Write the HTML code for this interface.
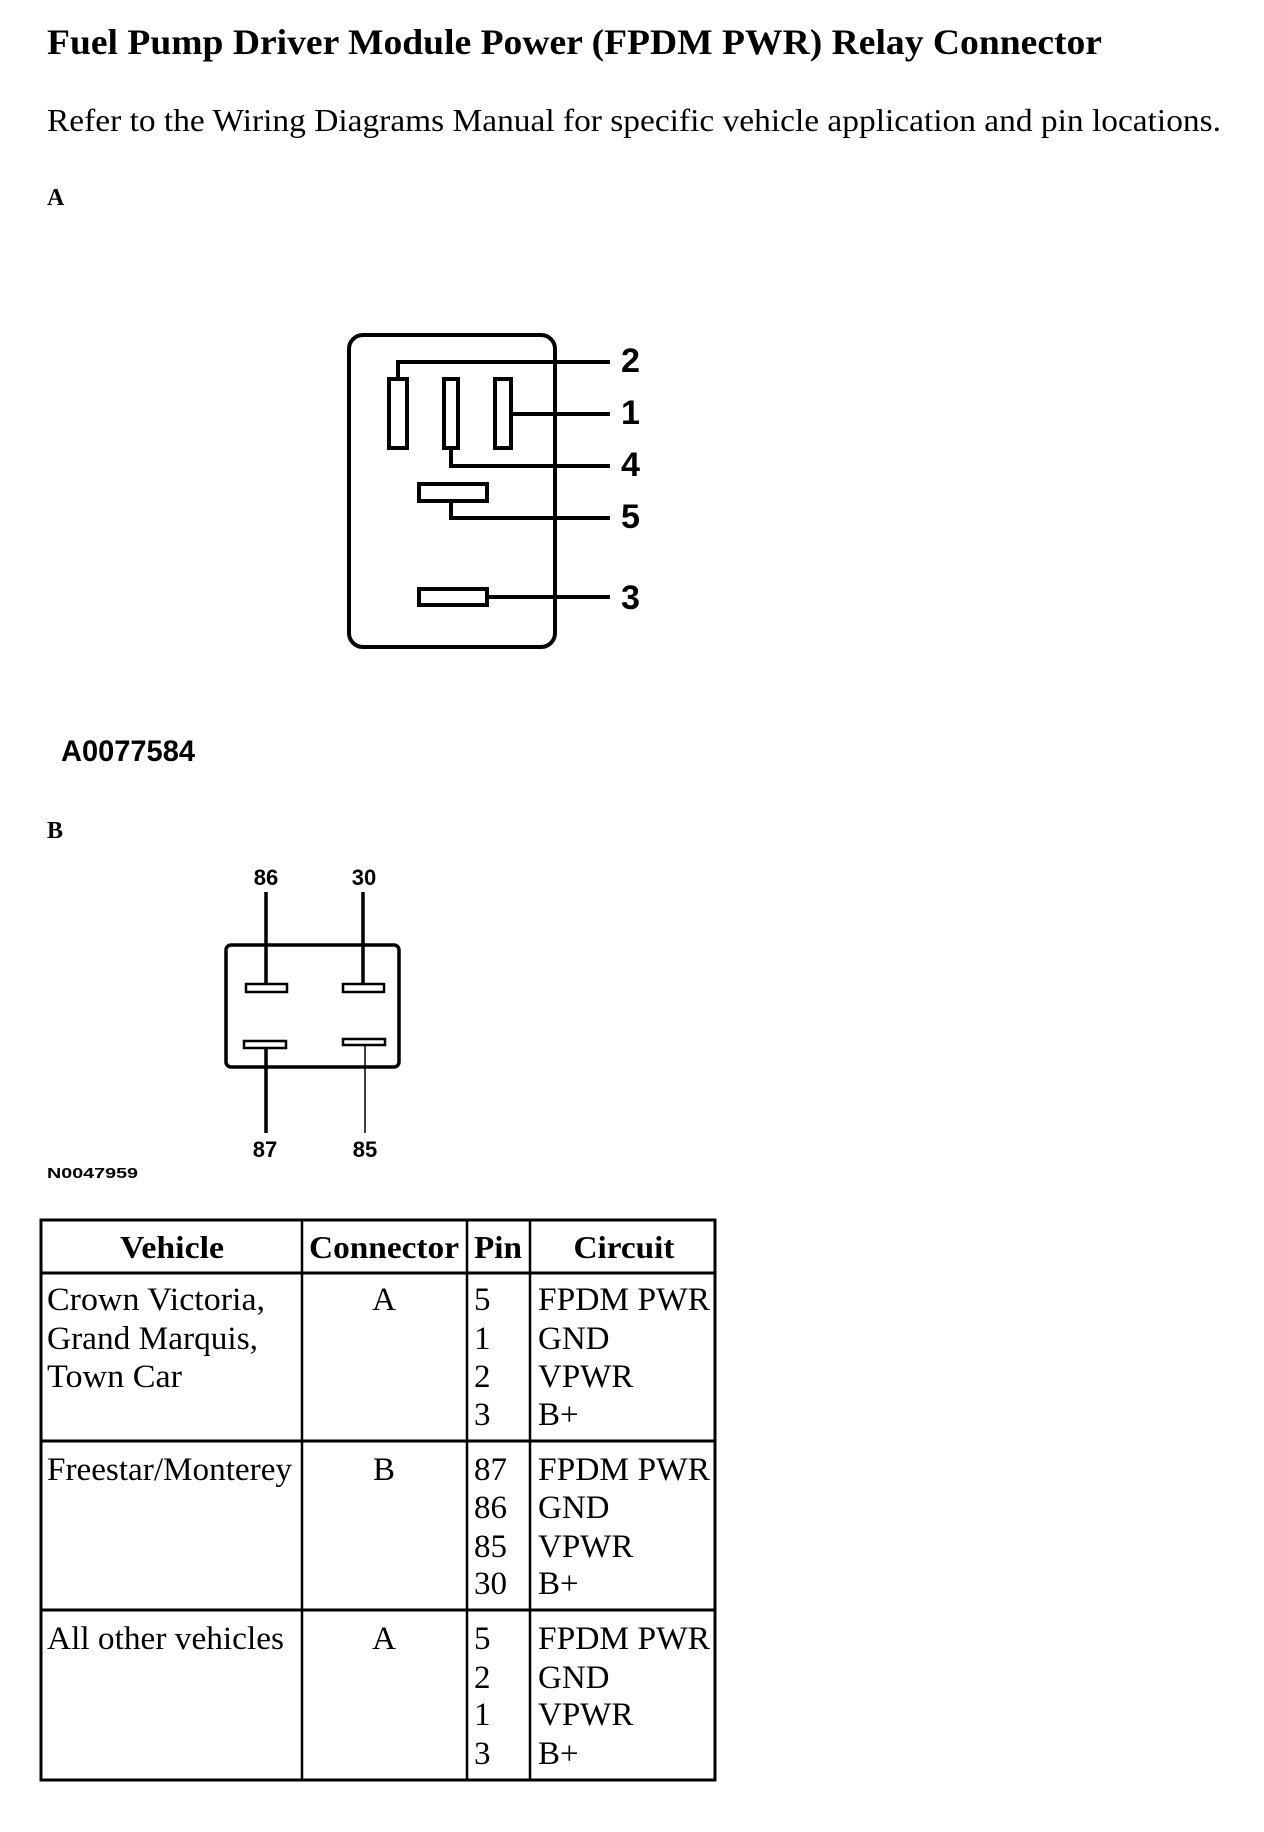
<!DOCTYPE html>
<html><head><meta charset="utf-8"><style>
html,body{margin:0;padding:0;background:#fff;}
svg{display:block;}
.serif{font-family:"Liberation Serif",serif;}
.sans{font-family:"Liberation Sans",sans-serif;font-weight:bold;}
</style></head><body>
<svg width="1264" height="1832" viewBox="0 0 1264 1832" xmlns="http://www.w3.org/2000/svg">
<rect width="1264" height="1832" fill="#fff"/>
<text class="serif" x="47" y="54" font-size="36" font-weight="bold" textLength="1055" lengthAdjust="spacingAndGlyphs">Fuel Pump Driver Module Power (FPDM PWR) Relay Connector</text>
<text class="serif" x="47" y="131" font-size="32" textLength="1174" lengthAdjust="spacingAndGlyphs">Refer to the Wiring Diagrams Manual for specific vehicle application and pin locations.</text>
<text class="serif" x="47" y="205" font-size="24" font-weight="bold">A</text>

<!-- Connector A -->
<g fill="none" stroke="#000" stroke-width="4">
<rect x="349" y="335" width="206" height="312" rx="14"/>
<rect x="389" y="379" width="18" height="69"/>
<rect x="444" y="379" width="14" height="69"/>
<rect x="495" y="379" width="16" height="69"/>
<rect x="419" y="484" width="68" height="17"/>
<rect x="419" y="589" width="68" height="16"/>
<polyline points="398,379 398,362 610,362"/>
<polyline points="511,414 610,414"/>
<polyline points="451,448 451,466 610,466"/>
<polyline points="451,501 451,518 610,518"/>
<polyline points="487,597 610,597"/>
</g>
<g class="sans" font-size="34">
<text x="621" y="372" textLength="19" lengthAdjust="spacingAndGlyphs">2</text>
<text x="621" y="424" textLength="19" lengthAdjust="spacingAndGlyphs">1</text>
<text x="621" y="476" textLength="19" lengthAdjust="spacingAndGlyphs">4</text>
<text x="621" y="528" textLength="19" lengthAdjust="spacingAndGlyphs">5</text>
<text x="621" y="609" textLength="19" lengthAdjust="spacingAndGlyphs">3</text>
</g>
<text class="sans" x="61" y="761" font-size="30" textLength="134" lengthAdjust="spacingAndGlyphs">A0077584</text>

<text class="serif" x="47" y="838" font-size="24" font-weight="bold">B</text>

<!-- Connector B -->
<g fill="none" stroke="#000">
<rect x="226" y="945" width="173" height="122" rx="5" stroke-width="3.5"/>
<rect x="246" y="984" width="41" height="8" stroke-width="2.5"/>
<rect x="343" y="984" width="41" height="8" stroke-width="2.5"/>
<rect x="244" y="1041" width="42" height="7" stroke-width="2.5"/>
<rect x="343" y="1039" width="42" height="6" stroke-width="2.5"/>
<line x1="266" y1="892" x2="266" y2="984" stroke-width="3.5"/>
<line x1="363" y1="892" x2="363" y2="984" stroke-width="3.5"/>
<line x1="266" y1="1048" x2="266" y2="1133" stroke-width="3.5"/>
<line x1="365" y1="1045" x2="365" y2="1133" stroke-width="1.5"/>
</g>
<g class="sans" font-size="22" text-anchor="middle">
<text x="266" y="885">86</text>
<text x="364" y="885">30</text>
<text x="265" y="1157">87</text>
<text x="365" y="1157">85</text>
</g>
<text class="sans" x="47" y="1178" font-size="15" font-weight="normal" textLength="91" lengthAdjust="spacingAndGlyphs">N0047959</text>

<!-- Table -->
<g stroke="#000" fill="none">
<rect x="41" y="1220" width="674" height="560" stroke-width="3"/>
<line x1="302" y1="1220" x2="302" y2="1780" stroke-width="2.5"/>
<line x1="467" y1="1220" x2="467" y2="1780" stroke-width="2.5"/>
<line x1="530" y1="1220" x2="530" y2="1780" stroke-width="2.5"/>
<line x1="41" y1="1273" x2="715" y2="1273" stroke-width="3"/>
<line x1="41" y1="1441" x2="715" y2="1441" stroke-width="3"/>
<line x1="41" y1="1610" x2="715" y2="1610" stroke-width="3"/>
</g>
<g class="serif" font-size="32" font-weight="bold" text-anchor="middle">
<text x="172" y="1258" textLength="104" lengthAdjust="spacingAndGlyphs">Vehicle</text>
<text x="384" y="1258" textLength="150" lengthAdjust="spacingAndGlyphs">Connector</text>
<text x="498" y="1258" textLength="48" lengthAdjust="spacingAndGlyphs">Pin</text>
<text x="624" y="1258" textLength="101" lengthAdjust="spacingAndGlyphs">Circuit</text>
</g>
<g class="serif" font-size="33">
<text x="47" y="1310" textLength="218" lengthAdjust="spacingAndGlyphs">Crown Victoria,</text>
<text x="47" y="1349" textLength="211" lengthAdjust="spacingAndGlyphs">Grand Marquis,</text>
<text x="47" y="1387" textLength="135" lengthAdjust="spacingAndGlyphs">Town Car</text>
<text x="47" y="1480" textLength="245" lengthAdjust="spacingAndGlyphs">Freestar/Monterey</text>
<text x="47" y="1649" textLength="237" lengthAdjust="spacingAndGlyphs">All other vehicles</text>
<g text-anchor="middle">
<text x="384" y="1310">A</text>
<text x="384" y="1480">B</text>
<text x="384" y="1649">A</text>
</g>
<text x="474" y="1310">5</text><text x="474" y="1349">1</text><text x="474" y="1387">2</text><text x="474" y="1425">3</text>
<text x="474" y="1480">87</text><text x="474" y="1518">86</text><text x="474" y="1557">85</text><text x="474" y="1594">30</text>
<text x="474" y="1649">5</text><text x="474" y="1688">2</text><text x="474" y="1725">1</text><text x="474" y="1764">3</text>
<text x="538" y="1310" textLength="172" lengthAdjust="spacingAndGlyphs">FPDM PWR</text><text x="538" y="1349">GND</text><text x="538" y="1387">VPWR</text><text x="538" y="1425">B+</text>
<text x="538" y="1480" textLength="172" lengthAdjust="spacingAndGlyphs">FPDM PWR</text><text x="538" y="1518">GND</text><text x="538" y="1557">VPWR</text><text x="538" y="1594">B+</text>
<text x="538" y="1649" textLength="172" lengthAdjust="spacingAndGlyphs">FPDM PWR</text><text x="538" y="1688">GND</text><text x="538" y="1725">VPWR</text><text x="538" y="1764">B+</text>
</g>
</svg>
</body></html>
